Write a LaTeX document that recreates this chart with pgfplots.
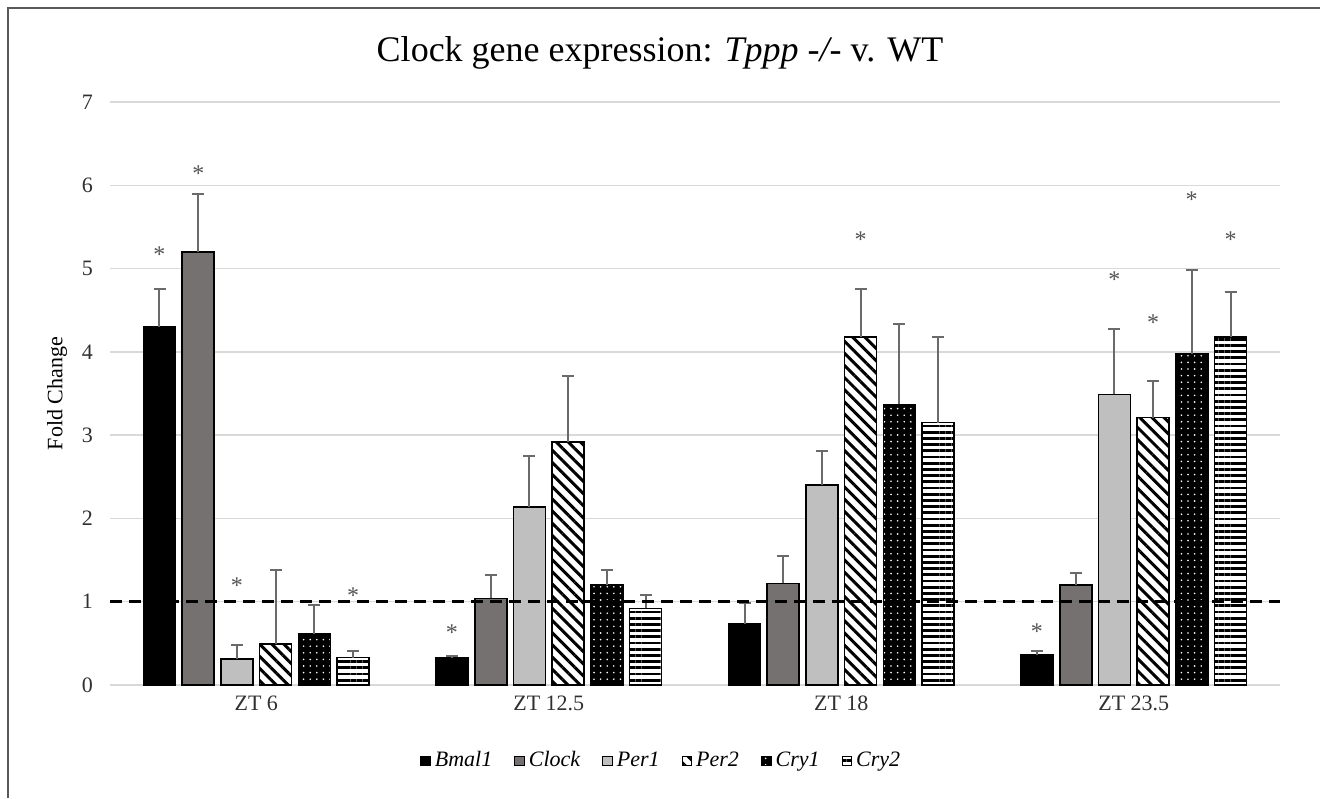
\documentclass[border=0pt]{standalone}
\usepackage{fontspec}
\setmainfont{Liberation Serif}
\usepackage{pgfplots}
\usepackage{pgfplotstable}
\pgfplotsset{compat=1.18}
\usetikzlibrary{patterns.meta}

\definecolor{clockgray}{HTML}{767171}
\definecolor{per1gray}{HTML}{BFBFBF}
\definecolor{errgray}{HTML}{6A6A6A}
\definecolor{gridgray}{HTML}{D9D9D9}
\definecolor{txtgray}{HTML}{303030}
\definecolor{framegray}{HTML}{595959}
\definecolor{stargray}{HTML}{555555}

% fold change and upper error, per time point
\pgfplotstableread{
x bmal bmalE clock clockE per1 per1E per2 per2E cry1 cry1E cry2 cry2E
0 4.30 0.45 5.20 0.69 0.31 0.17 0.49 0.89 0.61 0.35 0.33 0.08
1 0.33 0.02 1.04 0.28 2.14 0.61 2.92 0.79 1.20 0.18 0.92 0.16
2 0.73 0.25 1.22 0.33 2.40 0.41 4.18 0.57 3.37 0.97 3.15 1.03
3 0.36 0.05 1.20 0.15 3.49 0.78 3.21 0.44 3.98 1.00 4.18 0.54
}\expr

% significance stars
\pgfplotstableread{
x y
-0.331 5.20
-0.198 6.18
-0.066 1.23
0.331 1.11
0.669 0.67
2.066 5.38
2.669 0.68
2.934 4.91
3.066 4.39
3.198 5.86
3.331 5.39
}\stars

\begin{document}
\begin{tikzpicture}
\path[use as bounding box] (-55pt,-56.5pt) rectangle (605pt,342.5pt);
\draw[framegray, line width=1pt] (-51pt,-56.5pt) -- (-51pt,338.5pt) -- (605pt,338.5pt);
\node[font=\fontsize{18}{20}\selectfont] at (275pt,316pt)
  {Clock gene expression: \textit{Tppp -/-} v. WT};
\begin{axis}[
    scale only axis,
    width=585pt, height=291.5pt,
    ybar=3.35pt, bar width=16pt,
    xmin=-0.5, xmax=3.5, ymin=0, ymax=7,
    xtick={0,1,2,3},
    xticklabels={ZT 6, ZT 12.5, ZT 18, ZT 23.5},
    ytick={0,1,...,7},
    ymajorgrids,
    grid style={gridgray, line width=0.75pt},
    axis line style={draw=none},
    major tick length=0pt,
    tick label style={font=\fontsize{11}{13}\selectfont, text=txtgray},
    xticklabel style={yshift=-2pt},
    yticklabel style={xshift=-5pt},
    /pgf/number format/assume math mode=true,
    ylabel={Fold Change},
    ylabel style={font=\fontsize{11}{12}\selectfont, text=black,
      at={(axis description cs:-0.0453,0.5)}, anchor=center},
    legend style={at={(axis description cs:0.472,-0.130)}, anchor=center,
      draw=none, font=\fontsize{11}{13}\selectfont\itshape,
      /tikz/every even column/.append style={column sep=9pt}},
    legend columns=6,
    legend image code/.code={\draw[#1, line width=0.5pt] (0pt,-2.4pt) rectangle (4.8pt,2.4pt);},
    barerr/.style={error bars/.cd, y dir=plus, y explicit,
      error bar style={draw=errgray, line width=1pt, solid},
      error mark options={draw=errgray, rotate=90, mark size=3pt, line width=1pt}},
]
\addplot[draw=black, line width=0.8pt, fill=black, barerr]
  table[x=x, y=bmal, y error=bmalE] {\expr};
\addlegendentry{Bmal1}
\addplot[draw=black, line width=0.8pt, fill=clockgray, barerr]
  table[x=x, y=clock, y error=clockE] {\expr};
\addlegendentry{Clock}
\addplot[draw=black, line width=0.8pt, fill=per1gray, barerr]
  table[x=x, y=per1, y error=per1E] {\expr};
\addlegendentry{Per1}
\addplot[draw=black, line width=0.8pt, fill=white,
    postaction={pattern={Lines[angle=-45, distance=4.3pt, line width=1.5pt]}, pattern color=black}, barerr]
  table[x=x, y=per2, y error=per2E] {\expr};
\addlegendentry{Per2}
\addplot[draw=black, line width=0.8pt, fill=black,
    postaction={pattern={Dots[distance=3.3pt, radius=0.45pt]}, pattern color=white}, barerr]
  table[x=x, y=cry1, y error=cry1E] {\expr};
\addlegendentry{Cry1}
\addplot[draw=black, line width=0.8pt, fill=white,
    postaction={pattern={Lines[angle=0, distance=3.1pt, line width=1.4pt]}, pattern color=black}, barerr]
  table[x=x, y=cry2, y error=cry2E] {\expr};
\addlegendentry{Cry2}

% reference line at fold change 1
\addplot[forget plot, sharp plot, black, line width=1.5pt, dash pattern=on 6pt off 3.5pt]
  coordinates {(-0.5,1) (3.5,1)};

\addplot[forget plot, sharp plot, draw=none, mark=none,
    nodes near coords={*},
    every node near coord/.style={anchor=base, yshift=-5.5pt, inner sep=0pt,
      font=\fontsize{12}{12}\selectfont, text=stargray}]
  table[x=x, y=y] {\stars};
\end{axis}
\end{tikzpicture}
\end{document}
